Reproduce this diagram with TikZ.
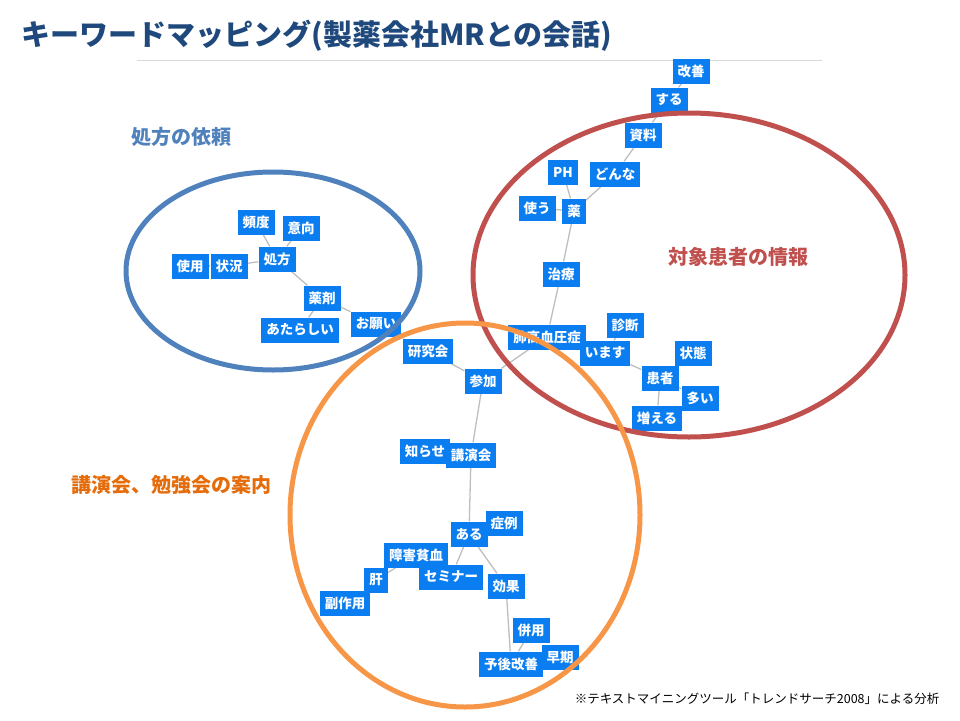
\documentclass[tikz,border=0pt]{standalone}
\usepackage{fontspec}
\setmainfont{Noto Sans CJK JP}
\usetikzlibrary{backgrounds}
\definecolor{titleblue}{RGB}{31,73,125}
\definecolor{kwblue}{RGB}{10,125,240}
\definecolor{ringblue}{RGB}{79,129,189}
\definecolor{ringred}{RGB}{192,80,77}
\definecolor{ringorange}{RGB}{247,150,70}
\definecolor{textorange}{RGB}{228,108,10}
\definecolor{linkgray}{RGB}{190,190,190}
\tikzset{
    keyword/.style={rectangle,fill=kwblue,text=white,inner xsep=5pt,inner ysep=0pt,minimum height=25pt,font=\bfseries\fontsize{13.5}{13.5}\selectfont},
    link/.style={draw=linkgray,line width=1.3pt},
    ring/.style={line width=5pt},
    group/.style={font=\bfseries\fontsize{20}{20}\selectfont}
}

\begin{document}
\begin{tikzpicture}[x=1pt,y=-1pt]
        \useasboundingbox (0,0) rectangle (960,720);
        \node (title) [anchor=west, text=titleblue, font=\bfseries\fontsize{29}{29}\selectfont] at (18,36) {キーワードマッピング(製薬会社MRとの会話)};
        \draw [draw=black!15, line width=0.8pt] (137,60) -- (822,60);
        % group labels
        \node (gLeft) [group, text=ringblue] at (181,137) {処方の依頼};
        \node (gRight) [group, text=ringred] at (738,257) {対象患者の情報};
        \node (gBottom) [group, text=textorange] at (171,485) {講演会、勉強会の案内};
        \begin{scope}[every node/.style={keyword}]
            % prescription
            \node (hindo) at (256,222) {頻度};
            \node (ikou) at (301,228) {意向};
            \node (shohou) at (277,259) {処方};
            \node (shiyou) at (190,266) {使用};
            \node (joukyou) at (229,266) {状況};
            \node (yakuzai) at (322,298) {薬剤};
            \node (atarashii) at (300,330) {あたらしい};
            \node (onegai) at (376,324) {お願い};
            % patients
            \node (kaizen) at (691,71) {改善};
            \node (suru) at (669,100) {する};
            \node (shiryou) at (643,135) {資料};
            \node (ph) at (563,172) {PH};
            \node (donna) at (615,174) {どんな};
            \node (tsukau) at (537,208) {使う};
            \node (kusuri) at (574,211) {薬};
            \node (chiryou) at (561,274) {治療};
            \node (haikou) at (547,337) {肺高血圧症};
            \node (shindan) at (625,325) {診断};
            \node (imasu) at (605,353) {います};
            \node (joutai) at (693,353) {状態};
            \node (kanja) at (660,378) {患者};
            \node (ooi) at (700,398) {多い};
            \node (fueru) at (657,418) {増える};
            % lectures
            \node (kenkyuu) at (428,351) {研究会};
            \node (sanka) at (483,381) {参加};
            \node (shirase) at (425,451) {知らせ};
            \node (kouen) at (471,455) {講演会};
            \node (shourei) at (504,523) {症例};
            \node (aru) at (469,534) {ある};
            \node (shougai) at (416,555) {障害貧血};
            \node (seminar) at (451,577) {セミナー};
            \node (kouka) at (506,586) {効果};
            \node (kan) at (376,580) {肝};
            \node (fukusayou) at (345,603) {副作用};
            \node (heiyou) at (531,630) {併用};
            \node (yogo) at (511,664) {予後改善};
            \node (souki) at (560,657) {早期};
        \end{scope}
        \begin{pgfonlayer}{background}
        \path (hindo) edge[link] (shohou);
        \path (ikou) edge[link] (shohou);
        \path (joukyou) edge[link] (shohou);
        \path (shiyou) edge[link] (joukyou);
        \path (shohou) edge[link] (yakuzai);
        \path (yakuzai) edge[link] (atarashii);
        \path (yakuzai) edge[link] (onegai);
        \path (kaizen) edge[link] (suru);
        \path (suru) edge[link] (shiryou);
        \path (shiryou) edge[link] (donna);
        \path (donna) edge[link] (kusuri);
        \path (ph) edge[link] (kusuri);
        \path (tsukau) edge[link] (kusuri);
        \path (kusuri) edge[link] (chiryou);
        \path (chiryou) edge[link] (haikou);
        \path (haikou) edge[link] (sanka);
        \path (shindan) edge[link] (imasu);
        \path (imasu) edge[link] (kanja);
        \path (kanja) edge[link] (joutai);
        \path (kanja) edge[link] (ooi);
        \path (kanja) edge[link] (fueru);
        \path (kenkyuu) edge[link] (sanka);
        \path (sanka) edge[link] (kouen);
        \path (kouen) edge[link] (aru);
        \path (aru) edge[link] (shourei);
        \path (aru) edge[link] (seminar);
        \path (aru) edge[link] (kouka);
        \path (shougai) edge[link] (kan);
        \path (kouka) edge[link] (yogo);
        \path (heiyou) edge[link] (yogo);
        \end{pgfonlayer}
        % rings
        \draw [ring, draw=ringblue] (273,271) ellipse [x radius=147pt, y radius=99pt];
        \draw [ring, draw=ringred] (689,275) ellipse [x radius=216pt, y radius=162pt];
        \draw [ring, draw=ringorange] (465,515) ellipse [x radius=175pt, y radius=192pt];
        \node (note) [font=\fontsize{12.5}{12.5}\selectfont] at (757,699) {※テキストマイニングツール「トレンドサーチ2008」による分析};
    \end{tikzpicture}
\end{document}
